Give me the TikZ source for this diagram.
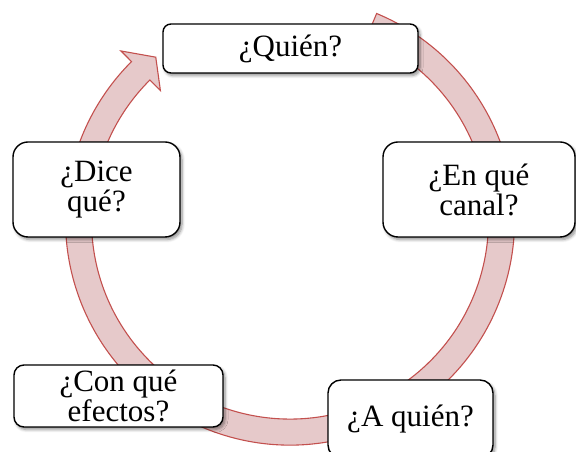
\documentclass[tikz,border=0pt]{standalone}
\usepackage{fontspec}
\setmainfont{Liberation Serif}
\usetikzlibrary{shadows.blur}
\definecolor{ringfill}{RGB}{230,201,202}
\definecolor{ringdraw}{RGB}{195,80,78}
\tikzset{
  ringstyle/.style={fill=ringfill, draw=ringdraw, line width=1.1pt, line join=miter},
  qbox/.style={draw=black, fill=white, line width=1.4pt, inner sep=0pt, align=center,
    font=\fontsize{31}{30}\selectfont,
    blur shadow={shadow xshift=2pt, shadow yshift=-2.5pt, shadow blur steps=6, shadow opacity=45, shadow blur radius=3pt}}
}
\begin{document}
\begin{tikzpicture}[x=1pt,y=1pt]
\useasboundingbox (0,0) rectangle (576,452);
\coordinate (c) at (290,231.4);
% circular arrow
\draw[ringstyle] ([shift={(67.3:224.5pt)}]c)
  arc[start angle=67.3, end angle=-225.1, radius=224.5pt]
  -- ([shift={(-225.1:239.5pt)}]c)
  -- ([shift={(-230.6:211.5pt)}]c)
  -- ([shift={(-225.1:183.6pt)}]c)
  -- ([shift={(-225.1:198.5pt)}]c)
  arc[start angle=-225.1, end angle=67.3, radius=198.5pt]
  -- cycle;
% boxes
\node[qbox, rounded corners=8pt, minimum width=255pt, minimum height=49pt] (quien) at (290.5,403.5) {¿Quién?};
\node[qbox, rounded corners=15pt, minimum width=192pt, minimum height=95pt] (canal) at (479,262.5) {¿En qué\\canal?};
\node[qbox, rounded corners=13pt, minimum width=165pt, minimum height=78pt] (aquien) at (410.5,33) {¿A quién?};
\node[qbox, rounded corners=10pt, minimum width=209pt, minimum height=62pt, font=\fontsize{31}{27}\selectfont] (efectos) at (118.5,56) {¿Con qué\\efectos?};
\node[qbox, rounded corners=15pt, minimum width=167pt, minimum height=95pt] (dice) at (96.5,262.5) {¿Dice\\qué?};
\end{tikzpicture}
\end{document}
